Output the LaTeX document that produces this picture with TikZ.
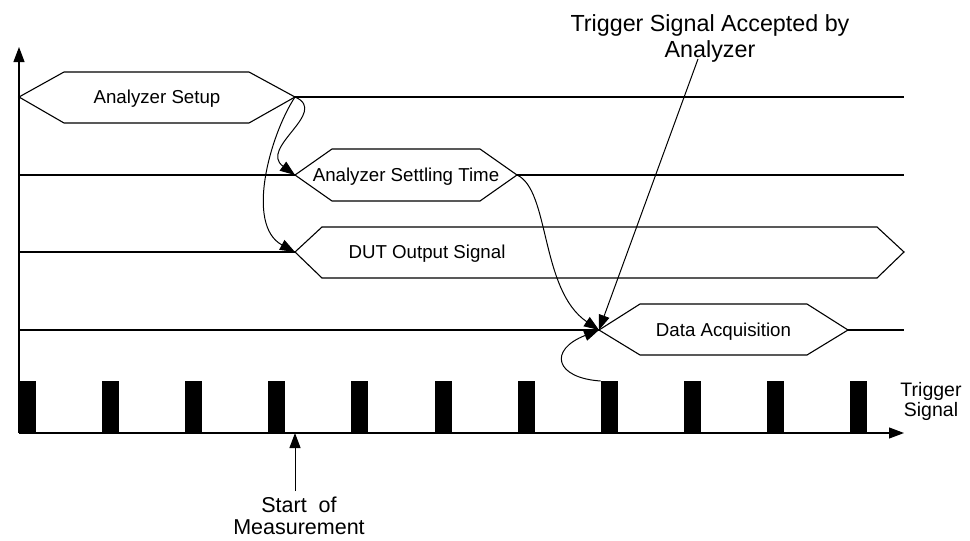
\documentclass[tikz,border=0pt]{standalone}
\usepackage{fontspec}
\setmainfont{Liberation Sans}
\usetikzlibrary{arrows.meta}

\begin{document}
\begin{tikzpicture}[x=1pt,y=-1pt,>={Triangle[length=15pt,width=11pt]},line width=1.1pt,
      lbl/.style={font=\fontsize{18.7}{23}\selectfont,inner sep=0pt,align=center},
      hexa/.style={draw,line join=miter},
      flow/.style={->,line width=1pt}]
      \useasboundingbox (0,0) rectangle (970,541);

      % axes
      \coordinate (o) at (19,433);
      \coordinate (ytop) at (19,47);
      \coordinate (xend) at (904,433);
      \draw[->] (o) -- (ytop);
      \draw[->] (o) -- (xend);

      % hexagon tips
      \coordinate (setupL) at (19,97);   \coordinate (setupR) at (295,97);
      \coordinate (settleL) at (295,175); \coordinate (settleR) at (517,175);
      \coordinate (dutL) at (295,252);   \coordinate (dutR) at (904,252);
      \coordinate (daqL) at (599,330);   \coordinate (daqR) at (848,330);

      % line ends
      \coordinate (l1) at (904,97);
      \coordinate (l2a) at (19,175); \coordinate (l2b) at (904,175);
      \coordinate (l3a) at (19,252);
      \coordinate (l4a) at (19,330); \coordinate (l4b) at (904,330);

      \draw (setupR) -- (l1);
      \draw (l2a) -- (settleL) (settleR) -- (l2b);
      \draw (l3a) -- (dutL);
      \draw (l4a) -- (daqL) (daqR) -- (l4b);

      \draw[hexa] (setupL) -- (64,72) -- (249,72) -- (setupR) -- (249,123) -- (64,123) -- cycle;
      \draw[hexa] (settleL) -- (332,149) -- (480,149) -- (settleR) -- (480,201) -- (332,201) -- cycle;
      \draw[hexa] (dutL) -- (322,227) -- (877,227) -- (dutR) -- (877,278) -- (322,278) -- cycle;
      \draw[hexa] (daqL) -- (640,304) -- (807,304) -- (daqR) -- (807,355) -- (640,355) -- cycle;

      \node[lbl] (setup) at (157,99) {Analyzer Setup};
      \node[lbl] (settle) at (406,177) {Analyzer Settling Time};
      \node[lbl] (dut) at (427,254) {DUT Output Signal};
      \node[lbl] (daq) at (723.5,332) {Data Acquisition};

      % trigger pulses
      \foreach \k in {0,...,10} {
        \coordinate (p\k) at (19+83.1*\k,381);
        \fill (p\k) rectangle ++(17,52);
      }
      \node[lbl,font=\fontsize{19.5}{20}\selectfont] (trig) at (931,401.5) {Trigger\\Signal};

      % annotations
      \node[lbl,font=\fontsize{23.3}{26}\selectfont] (acc) at (710,38) {Trigger Signal Accepted by\\Analyzer};
      \coordinate (acctail) at (698,59);
      \draw[flow] (acctail) -- (daqL);

      \node[lbl,font=\fontsize{21.5}{22}\selectfont] (start) at (299,516) {Start~~of\\Measurement};
      \coordinate (starttail) at (295,491);
      \coordinate (startpt) at (295,433);
      \draw[flow] (starttail) -- (startpt);

      % dependencies
      \draw[flow] (setupR) .. controls (330,112) and (258,148) .. (settleL);
      \draw[flow] (setupR) .. controls (270,135) and (245,225) .. (dutL);
      \draw[flow] (settleR) .. controls (550,190) and (540,290) .. (daqL);
      \draw[flow] (p7) .. controls (555,378) and (548,350) .. (daqL);
\end{tikzpicture}
\end{document}
